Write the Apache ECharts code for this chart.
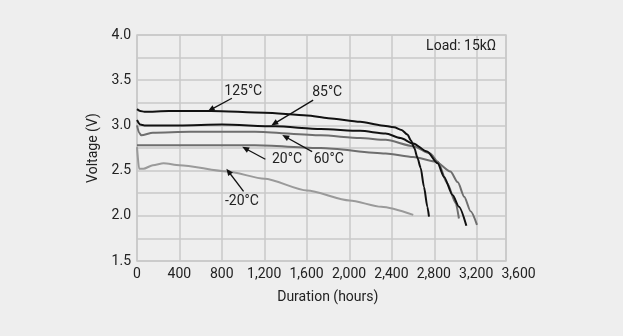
<!DOCTYPE html>
<html><head><meta charset="utf-8">
<script src="https://cdn.jsdelivr.net/npm/echarts@6/dist/echarts.min.js"></script>
<style>html,body{margin:0;padding:0;background:#eeeeee}#c{width:623px;height:336px}</style>
</head><body><div id="c"></div>
<script>
// Data (hours, volts)
const s125 = [[0,3.18],[30,3.16],[70,3.15],[300,3.16],[700,3.16],[1200,3.14],[1600,3.11],[1800,3.08],[2100,3.04],[2300,3.00],[2420,2.98],[2490,2.95],[2545,2.90],[2580,2.83],[2610,2.75],[2640,2.64],[2670,2.53],[2701,2.32],[2733,2.10],[2748,1.99]];
const s85 = [[0,3.06],[30,3.01],[70,3.00],[400,3.00],[800,3.01],[1300,2.99],[1730,2.96],[2100,2.94],[2340,2.91],[2480,2.86],[2600,2.80],[2730,2.71],[2830,2.58],[2890,2.43],[2970,2.23],[3030,2.10],[3100,1.89]];
const s60 = [[0,3.00],[20,2.92],[40,2.89],[150,2.92],[500,2.93],[1110,2.93],[1730,2.89],[2100,2.86],[2340,2.84],[2600,2.77],[2760,2.69],[2830,2.60],[2920,2.36],[3000,2.14],[3030,1.97]];
const s20 = [[0,2.78],[400,2.78],[800,2.78],[1110,2.78],[1730,2.75],[2340,2.69],[2600,2.65],[2810,2.60],[2950,2.49],[3020,2.37],[3080,2.21],[3140,2.05],[3200,1.90]];
const sm20 = [[0,2.76],[20,2.52],[60,2.52],[150,2.56],[250,2.58],[400,2.56],[850,2.49],[1200,2.41],[1600,2.28],[2000,2.17],[2300,2.10],[2600,2.01]];
const xTicks = [0,400,800,1200,1600,2000,2400,2800,3200,3600];
const yTicks = [1.5,2.0,2.5,3.0,3.5,4.0];
// annotations: [label, textPos, arrowTail, arrowHead]
const notes = [
  ['125°C', [1000,3.38], [893,3.30], [695,3.175]],
  ['85°C', [1790,3.36], [1658,3.28], [1292,3.02]],
  ['20°C', [1412,2.62], [1208,2.625], [1019,2.745]],
  ['60°C', [1805,2.62], [1648,2.71], [1396,2.875]],
  ['-20°C', [988,2.16], [1003,2.27], [861,2.49]]
];
const loadLabel = 'Load: 15kΩ';

const font = 'Roboto, "Noto Sans", sans-serif';
const fs = 14;
const gridCol = '#c8c8c8';
const chart = echarts.init(document.getElementById('c'));

function mkSeries(name, data, color) {
  return {name, type:'line', data, xAxisIndex:0, yAxisIndex:0, symbol:'none', smooth:0.25, smoothMonotone:'x',
    lineStyle:{color, width:2}, z:3};
}
const noteSeries = {
  type:'line', data:[], xAxisIndex:0, yAxisIndex:0, symbol:'none', silent:true,
  markLine:{silent:true, symbol:['none','triangle'], symbolSize:[6,7],
    lineStyle:{color:'#111', width:1.3, type:'solid'}, label:{show:false},
    data: notes.map(n => [{coord:n[2]},{coord:n[3]}])},
  markPoint:{silent:true, symbol:'circle', symbolSize:1, itemStyle:{color:'rgba(0,0,0,0)'},
    data: notes.map(n => ({coord:n[1], label:{show:true, formatter:n[0], position:'inside', color:'#222', fontSize:fs, fontFamily:font}}))
      .concat([{coord:[3385,3.87], label:{show:true, formatter:loadLabel, position:'left', distance:0, color:'#222', fontSize:fs, fontFamily:font}}])}
};

chart.setOption({
  backgroundColor:'#eeeeee',
  animation:false,
  grid:[
    {left:137, right:117, top:35, bottom:75, show:true, borderColor:gridCol, borderWidth:1.5, backgroundColor:'transparent'},
    {left:137, right:104.4, top:35, bottom:75, show:false}
  ],
  xAxis:[
    {type:'value', gridIndex:0, min:0, max:3473, interval:400,
     axisLine:{show:false}, axisTick:{show:false}, axisLabel:{show:false},
     splitLine:{show:true, lineStyle:{color:gridCol, width:1.5}}},
    {type:'value', gridIndex:1, min:0, max:3600, interval:400,
     axisLine:{show:false}, axisTick:{show:false}, splitLine:{show:false},
     axisLabel:{color:'#222', fontSize:fs, fontFamily:font, margin:6,
       formatter:v => xTicks.includes(v) ? v.toLocaleString('en-US') : ''},
     name:'Duration (hours)', nameLocation:'middle', nameGap:29,
     nameTextStyle:{color:'#222', fontSize:fs, fontFamily:font}}
  ],
  yAxis:[
    {type:'value', gridIndex:0, min:1.5, max:4.0, interval:0.25,
     axisLine:{show:false}, axisTick:{show:false},
     splitLine:{show:true, lineStyle:{color:gridCol, width:1.5}},
     axisLabel:{color:'#222', fontSize:fs, fontFamily:font, margin:6,
       formatter:v => yTicks.some(t => Math.abs(t-v)<1e-6) ? v.toFixed(1) : ''},
     name:'Voltage (V)', nameLocation:'middle', nameGap:37, nameRotate:90,
     nameTextStyle:{color:'#222', fontSize:fs, fontFamily:font}},
    {type:'value', gridIndex:1, min:1.5, max:4.0, show:false}
  ],
  series:[
    mkSeries('-20°C', sm20, '#9a9a9a'),
    mkSeries('20°C', s20, '#6e6e6e'),
    mkSeries('60°C', s60, '#6e6e6e'),
    mkSeries('85°C', s85, '#111111'),
    mkSeries('125°C', s125, '#111111'),
    noteSeries
  ]
});
</script></body></html>
